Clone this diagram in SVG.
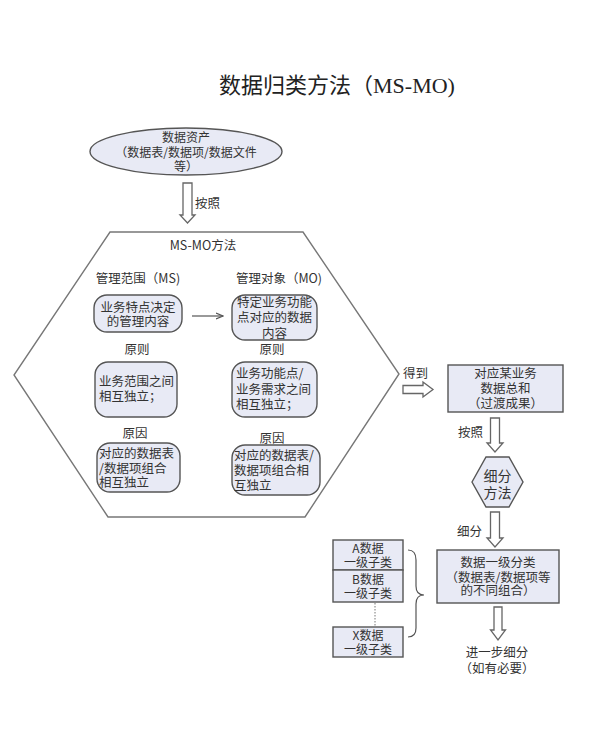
<svg xmlns="http://www.w3.org/2000/svg" width="589" height="738" viewBox="0 0 589 738">
<style>
text{font-family:"Noto Sans CJK SC","Liberation Sans",sans-serif;fill:#333;font-size:12.5px}
.c{text-anchor:middle}
.box{fill:#e8eaf5;stroke:#555;stroke-width:1.4}
.hex{fill:#fff;stroke:#777;stroke-width:1.4}
.blk{fill:#fff;stroke:#666;stroke-width:1.3}
.ln{fill:none;stroke:#555;stroke-width:1.2}
</style>
<defs>
<marker id="ah" markerWidth="8" markerHeight="8" refX="7" refY="4" orient="auto" markerUnits="userSpaceOnUse">
<path d="M0,1 L7,4 L0,7" fill="none" stroke="#555" stroke-width="1.2"/>
</marker>
</defs>
<rect width="589" height="738" fill="#fff"/>
<text id="title" x="337" y="93" class="c" style="font-size:22px;fill:#222">数据归类方法（<tspan style="font-family:'Liberation Serif',serif">MS-MO)</tspan></text>

<g id="asset">
<ellipse cx="186" cy="151.5" rx="96" ry="23.5" class="box"/>
<text x="186" y="142" class="c" style="font-size:12px">数据资产</text>
<text x="186" y="157" class="c" style="font-size:12px">（数据表/数据项/数据文件</text>
<text x="186" y="171" class="c" style="font-size:12px">等）</text>
</g>

<g id="msmo">
<polygon points="110,232 303,232 399,374 305,517 108,517 14,375" class="hex"/>
<text x="203" y="250" class="c" style="font-size:12.5px">MS-MO方法</text>
<text x="138" y="283" class="c">管理范围（MS)</text>
<text x="279" y="283" class="c">管理对象（MO)</text>
</g>

<g id="ms1">
<rect x="94" y="295" width="88" height="37" rx="13" class="box"/>
<text x="138" y="311.5" class="c">业务特点决定</text>
<text x="138" y="326" class="c">的管理内容</text>
</g>
<g id="mo1">
<rect x="232" y="295" width="85" height="45" rx="13" class="box"/>
<text x="274.5" y="306.5" class="c">特定业务功能</text>
<text x="274.5" y="322" class="c">点对应的数据</text>
<text x="274.5" y="337.5" class="c">内容</text>
</g>
<text x="137" y="354" class="c">原则</text>
<text x="272" y="354" class="c">原则</text>
<g id="ms2">
<rect x="95" y="362" width="82" height="55" rx="13" class="box"/>
<text x="99" y="386">业务范围之间</text>
<text x="99" y="401">相互独立；</text>
</g>
<g id="mo2">
<rect x="232" y="362" width="85" height="55" rx="13" class="box"/>
<text x="236" y="377.5">业务功能点/</text>
<text x="236" y="393.5">业务需求之间</text>
<text x="236" y="408.5">相互独立；</text>
</g>
<text x="135" y="438" class="c">原因</text>
<text x="272" y="443" class="c">原因</text>
<g id="ms3">
<rect x="97" y="443" width="83" height="49" rx="13" class="box"/>
<text x="99" y="458">对应的数据表</text>
<text x="99" y="473">/数据项组合</text>
<text x="99" y="487">相互独立</text>
</g>
<g id="mo3">
<rect x="232" y="445" width="88" height="50" rx="13" class="box"/>
<text x="234" y="460">对应的数据表/</text>
<text x="234" y="475">数据项组合相</text>
<text x="234" y="490">互独立</text>
</g>

<g id="total">
<rect x="448" y="365" width="115" height="47" class="box"/>
<text x="505.5" y="378" class="c">对应某业务</text>
<text x="505.5" y="393" class="c">数据总和</text>
<text x="505.5" y="408" class="c">（过渡成果）</text>
</g>

<g id="method">
<polygon points="472,482 486,457 509,457 523,482 509,507 486,507" class="box"/>
<text x="497.5" y="480.5" class="c" style="font-size:14px">细分</text>
<text x="497.5" y="497.5" class="c" style="font-size:14px">方法</text>
</g>

<g id="level1">
<rect x="437" y="550" width="122" height="53" class="box"/>
<text x="498" y="566.5" class="c">数据一级分类</text>
<text x="498" y="581.5" class="c">（数据表/数据项等</text>
<text x="498" y="595" class="c">的不同组合）</text>
</g>

<g id="subA">
<rect x="333" y="540" width="70" height="30" class="box"/>
<text x="368" y="552.5" class="c" style="font-size:12px">A数据</text>
<text x="368" y="567" class="c" style="font-size:12px">一级子类</text>
</g>
<g id="subB">
<rect x="333" y="570" width="70" height="32" class="box"/>
<text x="368" y="584" class="c" style="font-size:12px">B数据</text>
<text x="368" y="598" class="c" style="font-size:12px">一级子类</text>
</g>
<g id="subX">
<rect x="333" y="627" width="70" height="30" class="box"/>
<text x="368" y="639.5" class="c" style="font-size:12px">X数据</text>
<text x="368" y="654" class="c" style="font-size:12px">一级子类</text>
</g>

<text id="further" x="497" y="656.5" class="c">进一步细分</text>
<text x="497" y="672.5" class="c">（如有必要）</text>

<g id="connectors">
<polygon points="183,183 192,183 192,215 195,215 187.5,223 180,215 183,215" class="blk"/>
<text x="195" y="208">按照</text>
<line x1="192" y1="316" x2="223" y2="316" class="ln" marker-end="url(#ah)"/>
<polygon points="403,385.5 423,385.5 423,382 433,389.5 423,397 423,393.5 403,393.5" class="blk"/>
<text x="403" y="377.5">得到</text>
<polygon points="490.5,418 499.5,418 499.5,443 503,443 495,452 487,443 490.5,443" class="blk"/>
<text x="458" y="436.5">按照</text>
<polygon points="490.5,512 499.5,512 499.5,538 503,538 495,547 487,538 490.5,538" class="blk"/>
<text x="457" y="535.5">细分</text>
<polygon points="494,607 502,607 502,630 505.5,630 498,640 490.5,630 494,630" class="blk"/>
<line x1="375" y1="603" x2="375" y2="626" stroke="#777" stroke-width="1" stroke-dasharray="1.5,1.5"/>
<path d="M408,550 Q416,550 416,560 L416,586 Q416,595 424,595 Q416,595 416,604 L416,628 Q416,637 408,637" class="ln" stroke="#666"/>
</g>
</svg>
